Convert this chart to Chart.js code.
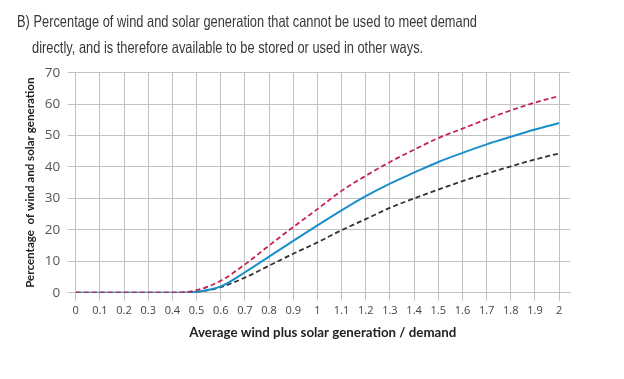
<!DOCTYPE html>
<html>
<head>
<meta charset="utf-8">
<script src="https://cdn.jsdelivr.net/npm/chart.js@4"></script>
<style>
html,body{margin:0;padding:0;background:#fff;}
#wrap{position:relative;width:624px;height:379px;}
canvas{display:block;}
</style>
</head>
<body>
<div id="wrap"><canvas id="c" width="624" height="379"></canvas></div>
<script>
const titleLines = [
  "B) Percentage of wind and solar generation that cannot be used to meet demand",
  "directly, and is therefore available to be stored or used in other ways."
];
const xLabel = "Average wind plus solar generation / demand";
const yLabel = "Percentage  of wind and solar generation";
const xValues = [0,0.1,0.2,0.3,0.4,0.5,0.6,0.7,0.8,0.9,1,1.1,1.2,1.3,1.4,1.5,1.6,1.7,1.8,1.9,2];
const redSeries   = [0,0,0,0,0,0.8,3.8,9.0,15.0,20.9,26.6,32.4,37.2,41.6,45.5,49.2,52.2,55.2,58.0,60.5,62.6];
const blueSeries  = [0,0,0,0,0,0.3,2.0,6.5,11.5,16.5,21.4,26.2,30.7,34.7,38.2,41.6,44.5,47.2,49.6,51.9,54.0];
const blackSeries = [0,0,0,0,0,0.2,1.8,4.8,8.6,12.4,16.0,19.9,23.4,27.0,30.0,32.8,35.5,37.9,40.2,42.4,44.3];
const yTicks = [0,10,20,30,40,50,60,70];

const pts = arr => arr.map((v,i)=>({x:xValues[i], y:v}));

const titlePlugin = {
  id:'titleText',
  afterDraw(chart){
    const ctx = chart.ctx;
    ctx.save();
    ctx.fillStyle = '#383838';
    ctx.textBaseline = 'middle';
    ctx.textAlign = 'left';
    ctx.font = '16.5px "Liberation Sans", Arial, sans-serif';
    const w = ctx.measureText(titleLines[0]).width;
    const k = 460 / w;
    ctx.save();
    ctx.translate(17, 22);
    ctx.scale(k, 1);
    ctx.fillText(titleLines[0], 0, 0);
    ctx.restore();
    ctx.save();
    ctx.translate(32, 48);
    ctx.scale(k, 1);
    ctx.fillText(titleLines[1], 0, 0);
    ctx.restore();
    ctx.restore();
  }
};

const gridColor = '#c2c2c2';

new Chart(document.getElementById('c'), {
  type:'line',
  data:{
    datasets:[
      {label:'upper', data:pts(redSeries), borderColor:'#c4234f', borderWidth:1.8, borderDash:[5,3], pointRadius:0, cubicInterpolationMode:'monotone', fill:false},
      {label:'central', data:pts(blueSeries), borderColor:'#1b8fcb', borderWidth:2, pointRadius:0, cubicInterpolationMode:'monotone', fill:false},
      {label:'lower', data:pts(blackSeries), borderColor:'#333333', borderWidth:1.8, borderDash:[5,3], pointRadius:0, cubicInterpolationMode:'monotone', fill:false}
    ]
  },
  options:{
    responsive:false,
    animation:false,
    layout:{padding:{left:0,right:54,top:72.7,bottom:0}},
    plugins:{legend:{display:false}, tooltip:{enabled:false}},
    scales:{
      x:{
        type:'linear', min:0, max:2.045,
        afterBuildTicks(s){ s.ticks = xValues.map(v=>({value:v})); },
        afterFit(s){ s.height = 86.3; },
        grid:{color:gridColor, tickLength:8, drawTicks:true},
        border:{color:gridColor},
        ticks:{
          autoSkip:false, maxRotation:0, padding:4,
          color:'#444',
          font:{family:'"Open Sans", sans-serif', size:11},
          callback:(v)=> String(Math.round(v*10)/10)
        },
        title:{display:true, text:xLabel, color:'#222', font:{family:'Lato, sans-serif', size:13.3, weight:'bold'}, padding:{top:0,bottom:38.5}}
      },
      y:{
        min:0, max:70,
        afterBuildTicks(s){ s.ticks = yTicks.map(v=>({value:v})); },
        afterFit(s){ s.width = 75.7; },
        grid:{color:gridColor, tickLength:8},
        border:{color:gridColor},
        ticks:{
          padding:7.5, color:'#555',
          font:{family:'"Open Sans", sans-serif', size:13.5}
        },
        title:{display:true, text:yLabel, color:'#222', font:{family:'Lato, sans-serif', size:11.6, weight:'bold'}, padding:{top:23,bottom:0}}
      }
    }
  },
  plugins:[titlePlugin]
});
</script>
</body>
</html>
